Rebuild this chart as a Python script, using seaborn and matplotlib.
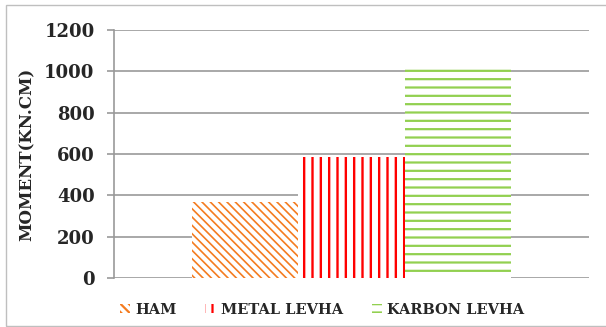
import matplotlib
matplotlib.use("Agg")
import matplotlib.pyplot as plt
from matplotlib.patches import Patch, Rectangle
import seaborn as sns
import pandas as pd

# Moment capacity per reinforcement type
series = ["HAM", "METAL LEVHA", "KARBON LEVHA"]
moments = [370, 585, 1025]
y_ticks = [0, 200, 400, 600, 800, 1000, 1200]
y_label = "MOMENT(KN.CM)"

colors = ["#F47C20", "#FF0000", "#92D050"]
hatches = ["\\\\\\\\", "||", "--"]
hatch_widths = [1.2, 1.7, 1.6]

sns.set_theme(style="white")
plt.rcParams["font.family"] = ["DejaVu Serif"]
plt.rcParams["font.weight"] = "bold"
plt.rcParams["hatch.linewidth"] = 1.6

df = pd.DataFrame({"grp": [""] * len(series), "series": series, "moment": moments})

fig = plt.figure(figsize=(6.06, 3.27), dpi=100)
ax = fig.add_axes([114 / 606, 1 - 278 / 327, (589 - 114) / 606, (278 - 30) / 327])

sns.barplot(data=df, x="grp", y="moment", hue="series", hue_order=series,
            palette=["white"] * 3, width=0.67, dodge=True, gap=0,
            legend=False, ax=ax, errorbar=None, zorder=3)


def style_patch(p, c, h, hw):
    p.set_facecolor("white")
    p.set_edgecolor(c)
    p.set_hatch(h)
    p.set_linewidth(0)
    if hasattr(p, "set_hatch_linewidth"):
        p.set_hatch_linewidth(hw)


for bar, c, h, hw in zip(ax.patches, colors, hatches, hatch_widths):
    style_patch(bar, c, h, hw)

ax.set_xlim(-0.5, 0.5)
ax.set_ylim(0, 1200)
ax.set_yticks(y_ticks)
ax.set_yticklabels([str(t) for t in y_ticks], fontsize=13, fontweight="bold")
ax.set_xticks([])
ax.set_xlabel("")
ax.set_ylabel(y_label, fontsize=12, fontweight="bold", labelpad=6)

grid_c = "#999999"
ax.yaxis.grid(True, color=grid_c, linewidth=1.2, zorder=0)
ax.set_axisbelow(True)
for s in ["top", "right", "bottom"]:
    ax.spines[s].set_visible(False)
ax.spines["left"].set_color(grid_c)
ax.spines["left"].set_linewidth(1.2)
ax.tick_params(axis="y", which="major", left=True, length=5, width=1.2,
               color=grid_c, pad=9)

handles = []
for c, h, hw in zip(colors, hatches, hatch_widths):
    hp = Patch(facecolor="white", edgecolor=c, hatch=h, linewidth=0)
    if hasattr(hp, "set_hatch_linewidth"):
        hp.set_hatch_linewidth(hw)
    handles.append(hp)

fig.legend(handles, series, loc="center", bbox_to_anchor=(322 / 606, 1 - 310 / 327),
           ncol=3, frameon=False, handlelength=0.7, handleheight=0.6,
           handletextpad=0.35, columnspacing=2.0,
           prop={"family": "DejaVu Serif", "weight": "bold", "size": 10.5})

fig.add_artist(Rectangle((6 / 606, 1 / 327), 1.0, 321 / 327, transform=fig.transFigure,
                         fill=False, edgecolor="#BFBFBF", linewidth=1.0))

fig.savefig("out.png", dpi=100)
